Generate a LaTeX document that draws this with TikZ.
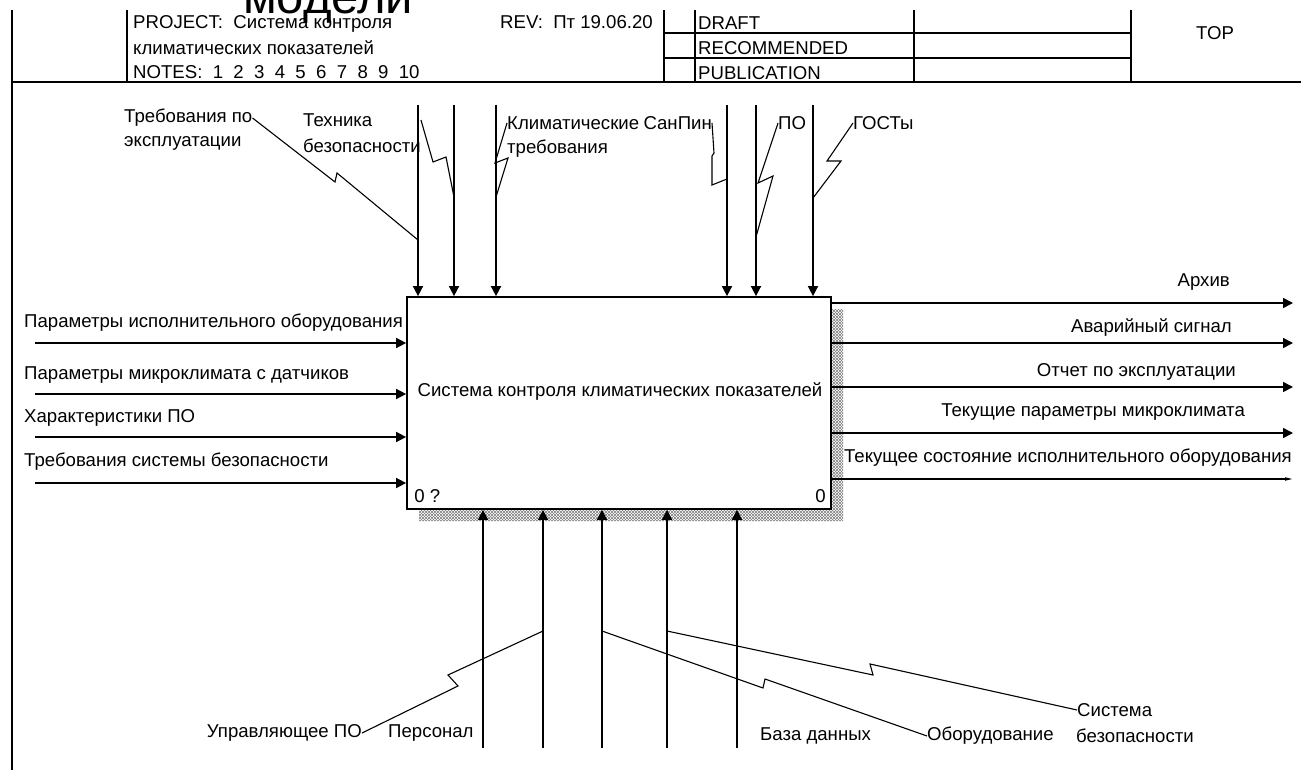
\documentclass[tikz,border=0pt]{standalone}
\usepackage{fontspec}
\setmainfont{Liberation Sans}
\usetikzlibrary{arrows.meta,calc,patterns}

\begin{document}
\begin{tikzpicture}[x=1pt,y=-1pt,>={Triangle[length=10pt,width=10pt]},
  lbl/.style={inner sep=0pt,font=\fontsize{18.6}{22}\selectfont},
  arr/.style={->,line width=1.5pt},
  lead/.style={line width=1.1pt},
  frame/.style={line width=1.7pt}]
  \useasboundingbox (0,0) rectangle (1301,770);
  \clip (0,0) rectangle (1301,770);

  \draw[frame] (12,10) -- (12,770);
  \draw[frame] (12,82) -- (1301,82);
  \draw[frame] (127,10) -- (127,82);
  \draw[frame] (664,10) -- (664,82) (695,10) -- (695,82) (914,10) -- (914,82) (1131,10) -- (1131,82);
  \draw[frame] (664,33) -- (1131,33) (664,58) -- (1131,58);
  \node[lbl,anchor=base west,font=\fontsize{49}{50}\selectfont] (modeli) at (243,14) {модели};
  \node[lbl,anchor=west] (project) at (133,24) {PROJECT:\ \ Система контроля};
  \node[lbl,anchor=west] (project2) at (133,48) {климатических показателей};
  \node[lbl,anchor=west] (notes) at (133,72) {NOTES:\ \ 1\ \ 2\ \ 3\ \ 4\ \ 5\ \ 6\ \ 7\ \ 8\ \ 9\ \ 10};
  \node[lbl,anchor=west] (rev) at (500,22) {REV:\ \ Пт 19.06.20};
  \node[lbl,anchor=west] (draft) at (698,23) {DRAFT};
  \node[lbl,anchor=west] (recommended) at (698,48) {RECOMMENDED};
  \node[lbl,anchor=west] (publication) at (698,73) {PUBLICATION};
  \node[lbl] (top) at (1215,33) {TOP};

  \fill[pattern=north east lines,pattern color=gray] (831,309) rectangle (843,521) (419,509) rectangle (843,521);
  \fill[pattern=north west lines,pattern color=gray] (831,309) rectangle (843,521) (419,509) rectangle (843,521);
  \node[draw,line width=1.7pt,fill=white,minimum width=424pt,minimum height=212pt,inner sep=0pt] (sistema) at (619,403) {};
  \node[lbl] (sistematxt) at (620,392) {Система контроля климатических показателей};
  \node[lbl,anchor=south west] (nomer) at ([xshift=8pt,yshift=7pt]sistema.south west) {0 ?};
  \node[lbl,anchor=south east] (nomer2) at ([xshift=-6pt,yshift=7pt]sistema.south east) {0};

  \coordinate (u1) at (418,105);
  \coordinate (u2) at (454,105);
  \coordinate (u3) at (496,105);
  \coordinate (u4) at (727,105);
  \coordinate (u5) at (756,105);
  \coordinate (u6) at (813,105);
  \draw[arr] (u1) -- (u1 |- sistema.north);
  \draw[arr] (u2) -- (u2 |- sistema.north);
  \draw[arr] (u3) -- (u3 |- sistema.north);
  \draw[arr] (u4) -- (u4 |- sistema.north);
  \draw[arr] (u5) -- (u5 |- sistema.north);
  \draw[arr] (u6) -- (u6 |- sistema.north);
  \node[lbl,anchor=west] (trebpo) at (124,118) {Требования по};
  \node[lbl,anchor=west] (trebpo2) at (124,143) {эксплуатации};
  \node[lbl,anchor=west] (tehnika) at (303,120) {Техника};
  \node[lbl,anchor=west] (tehnika2) at (303,146) {безопасности};
  \node[lbl,anchor=west] (klimat) at (507,123) {Климатические};
  \node[lbl,anchor=west] (klimat2) at (507,149) {требования};
  \node[lbl,anchor=east] (sanpin) at (712,123) {СанПин};
  \node[lbl,anchor=west] (po) at (778,123) {ПО};
  \node[lbl,anchor=west] (gost) at (853,123) {ГОСТы};
  \draw[lead] (trebpo.east) -- (335,182) -- (337,173) -- (u1 |- 0,240);
  \draw[lead] (tehnika2.east |- tehnika.center) -- (433,162) -- (446,157) -- (u2 |- 0,197);
  \draw[lead] (klimat.west) -- (495,163) -- (508,158) -- (u3 |- 0,197);
  \draw[lead] (sanpin.east) -- (714,153) -- (712,156) -- (712,185) -- (u4 |- 0,179);
  \draw[lead] (po.west) -- (758,183) -- (773,176) -- (u5 |- 0,237);
  \draw[lead] (gost.west) -- (827,161) -- (841,161) -- (u6 |- 0,198);

  \coordinate (v1) at (35,343);
  \coordinate (v2) at (35,394);
  \coordinate (v3) at (35,437);
  \coordinate (v4) at (35,483);
  \draw[arr] (v1) -- (v1 -| sistema.west);
  \draw[arr] (v2) -- (v2 -| sistema.west);
  \draw[arr] (v3) -- (v3 -| sistema.west);
  \draw[arr] (v4) -- (v4 -| sistema.west);
  \node[lbl,anchor=west] (vhod1) at (24,323) {Параметры исполнительного оборудования};
  \node[lbl,anchor=west] (vhod2) at (24,375) {Параметры микроклимата с датчиков};
  \node[lbl,anchor=west] (vhod3) at (24,418) {Характеристики ПО};
  \node[lbl,anchor=west] (vhod4) at (24,462) {Требования системы безопасности};

  \coordinate (w1) at (1293,303);
  \coordinate (w2) at (1293,343);
  \coordinate (w3) at (1293,387);
  \coordinate (w4) at (1293,433);
  \coordinate (w5) at (1293,479);
  \draw[arr] (w1 -| sistema.east) -- (w1);
  \draw[arr] (w2 -| sistema.east) -- (w2);
  \draw[arr] (w3 -| sistema.east) -- (w3);
  \draw[arr] (w4 -| sistema.east) -- (w4);
  \draw[line width=1.5pt,-{Triangle[length=8pt,width=3pt]}] (w5 -| sistema.east) -- (w5);
  \node[lbl,anchor=east] (vyhod1) at (1230,282) {Архив};
  \node[lbl,anchor=east] (vyhod2) at (1232,328) {Аварийный сигнал};
  \node[lbl,anchor=east] (vyhod3) at (1236,372) {Отчет по эксплуатации};
  \node[lbl,anchor=east] (vyhod4) at (1245,412) {Текущие параметры микроклимата};
  \node[lbl,anchor=east] (vyhod5) at (1292,458) {Текущее состояние исполнительного оборудования};

  \coordinate (m1) at (483,748);
  \coordinate (m2) at (543,748);
  \coordinate (m3) at (602,748);
  \coordinate (m4) at (667,748);
  \coordinate (m5) at (737,748);
  \draw[arr] (m1) -- (m1 |- sistema.south);
  \draw[arr] (m2) -- (m2 |- sistema.south);
  \draw[arr] (m3) -- (m3 |- sistema.south);
  \draw[arr] (m4) -- (m4 |- sistema.south);
  \draw[arr] (m5) -- (m5 |- sistema.south);
  \node[lbl,anchor=east] (upravpo) at (362,733) {Управляющее ПО};
  \node[lbl,anchor=west] (personal) at (388,733) {Персонал};
  \node[lbl,anchor=west] (baza) at (760,736) {База данных};
  \node[lbl,anchor=west] (oborud) at (927,736) {Оборудование};
  \node[lbl,anchor=west] (sisbez) at (1077,710) {Система};
  \node[lbl,anchor=west] (sisbez2) at (1076,736) {безопасности};
  \draw[lead] (upravpo.east) -- (458,686) -- (448,675) -- (m2 |- 0,631);
  \draw[lead] (oborud.west) -- (765,679) -- (763,688) -- (m3 |- 0,631);
  \draw[lead] (sisbez.west) -- (870,664) -- (873,675) -- (m4 |- 0,631);
\end{tikzpicture}
\end{document}
